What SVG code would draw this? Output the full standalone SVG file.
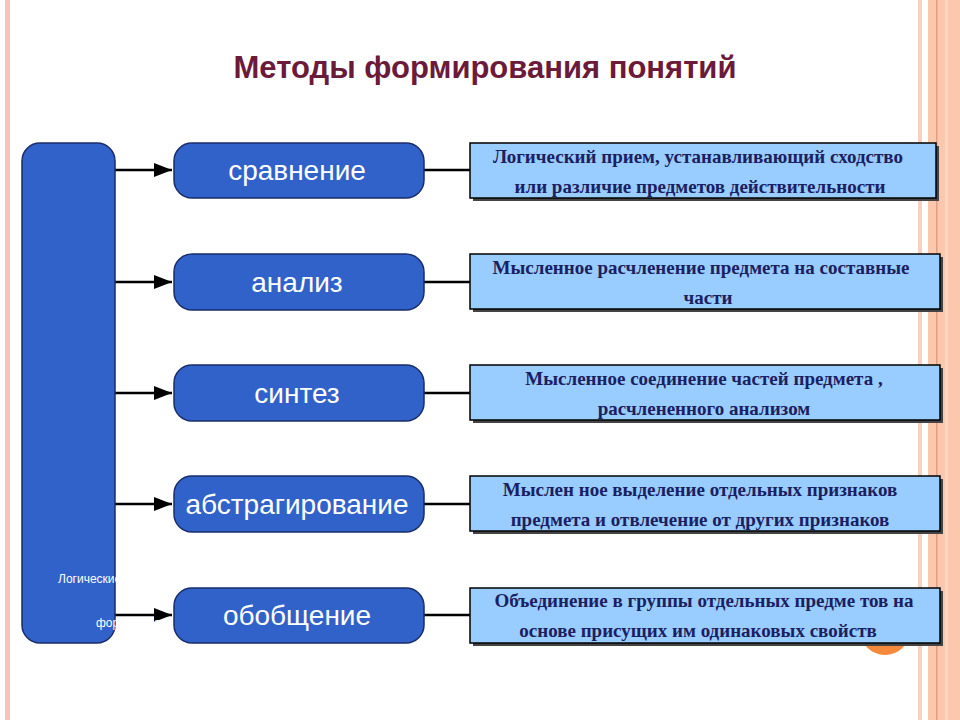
<svg xmlns="http://www.w3.org/2000/svg" width="960" height="720" viewBox="0 0 960 720">
<style>
.n{fill:#3162c9;stroke:#1a2d6a;stroke-width:1.5}
.nt{font-family:"Liberation Sans",Arial,sans-serif;font-size:28px;fill:#fff;text-anchor:middle}
.d{fill:#99ccff;stroke:#000;stroke-width:1.5}
.sh{fill:#444}
.dt{font-family:"Liberation Serif","Times New Roman",serif;font-size:19px;font-weight:bold;fill:#1a2060;text-anchor:middle}
.c{stroke:#000;stroke-width:2.5;fill:none}
</style>
<defs>
<marker id="ar" markerWidth="18" markerHeight="14" refX="18" refY="7" orient="auto" markerUnits="userSpaceOnUse"><path d="M0,0L18,7L0,14z" fill="#000"/></marker></defs>
<rect width="960" height="720" fill="#fff"/>
<rect x="5" y="0" width="5" height="720" fill="#f8c4b4"/>
<rect x="918" y="0" width="4" height="720" fill="#f6d0c0"/>
<rect x="928" y="0" width="32" height="720" fill="#fbc8ad"/>
<rect x="936" y="0" width="1.5" height="720" fill="#e0a080"/>
<rect x="945" y="0" width="3" height="720" fill="#fdd5c0"/>
<circle cx="885" cy="630" r="25" fill="#f58a3c"/>
<text x="485" y="78" font-family="Liberation Sans,Arial,sans-serif" font-size="31" font-weight="bold" fill="#6b1a3a" text-anchor="middle">Методы формирования понятий</text>
<g id="connectors">
<path class="c" d="M115,170H172" marker-end="url(#ar)"/>
<path class="c" d="M115,282H172" marker-end="url(#ar)"/>
<path class="c" d="M115,393H172" marker-end="url(#ar)"/>
<path class="c" d="M115,504H172" marker-end="url(#ar)"/>
<path class="c" d="M115,615H172" marker-end="url(#ar)"/>
<path class="c" d="M424,170H470M424,282H470M424,393H470M424,504H470M424,615H470"/>
</g>
<g id="root"><rect class="n" x="22" y="143" width="93" height="500" rx="18"/>
<text font-family="Liberation Sans,Arial,sans-serif" font-size="12" fill="#fff"><tspan x="58" y="583">Логические приемы</tspan><tspan x="96" y="627">формирования</tspan></text></g>
<g id="n1"><rect class="n" x="174" y="143" width="250" height="55" rx="18"/><text class="nt" x="297" y="180">сравнение</text></g>
<g id="n2"><rect class="n" x="174" y="254" width="250" height="56" rx="18"/><text class="nt" x="297" y="292">анализ</text></g>
<g id="n3"><rect class="n" x="174" y="365" width="250" height="56" rx="18"/><text class="nt" x="297" y="403">синтез</text></g>
<g id="n4"><rect class="n" x="174" y="476" width="250" height="56" rx="18"/><text class="nt" x="297" y="514">абстрагирование</text></g>
<g id="n5"><rect class="n" x="174" y="588" width="250" height="55" rx="18"/><text class="nt" x="297" y="625">обобщение</text></g>
<g id="d1"><rect class="sh" x="473" y="146" width="466" height="55"/><rect class="d" x="470" y="143" width="466" height="55"/><text class="dt" x="698" y="163">Логический прием, устанавливающий сходство</text><text class="dt" x="700" y="193">или различие предметов действительности</text></g>
<g id="d2"><rect class="sh" x="473" y="257" width="470" height="55"/><rect class="d" x="470" y="254" width="470" height="55"/><text class="dt" x="701" y="274">Мысленное расчленение предмета на составные</text><text class="dt" x="708" y="304">части</text></g>
<g id="d3"><rect class="sh" x="473" y="368" width="470" height="55"/><rect class="d" x="470" y="365" width="470" height="55"/><text class="dt" x="704" y="385">Мысленное соединение частей предмета ,</text><text class="dt" x="704" y="415">расчлененного анализом</text></g>
<g id="d4"><rect class="sh" x="473" y="479" width="470" height="55"/><rect class="d" x="470" y="476" width="470" height="55"/><text class="dt" x="700" y="496">Мыслен ное выделение отдельных признаков</text><text class="dt" x="700" y="526">предмета и отвлечение от других признаков</text></g>
<g id="d5"><rect class="sh" x="473" y="591" width="470" height="55"/><rect class="d" x="470" y="588" width="470" height="55"/><text class="dt" x="704" y="607">Объединение в группы отдельных предме  тов на</text><text class="dt" x="698" y="637">основе присущих им одинаковых свойств</text></g>
</svg>
